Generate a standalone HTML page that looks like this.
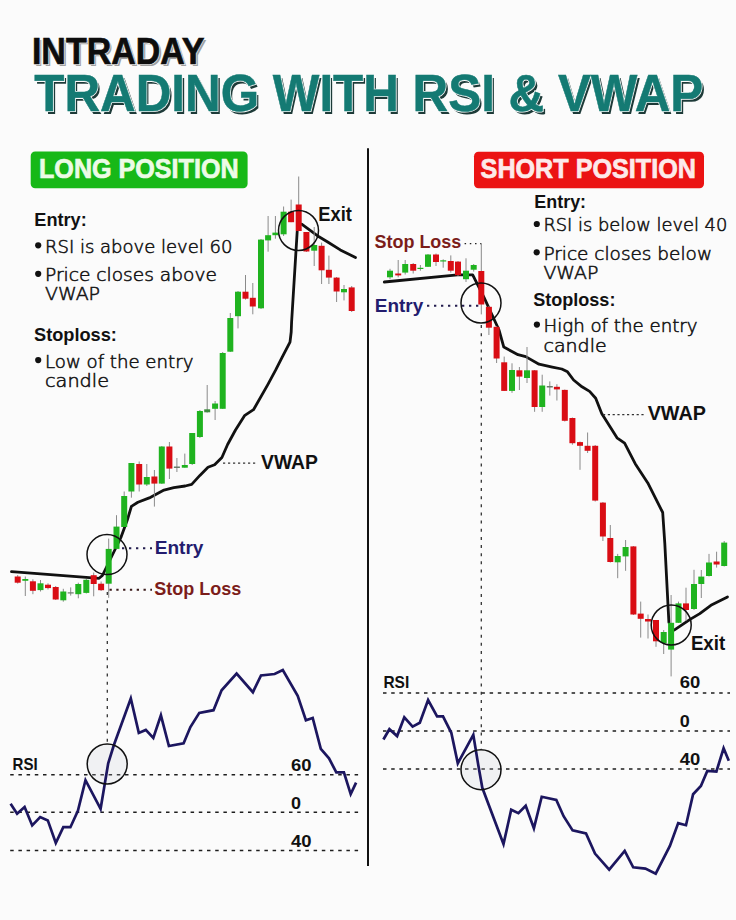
<!DOCTYPE html>
<html><head><meta charset="utf-8"><title>Intraday Trading with RSI &amp; VWAP</title>
<style>
html,body{margin:0;padding:0;background:#fbfbfb;}
body{width:736px;height:920px;overflow:hidden;}
svg{display:block;}
</style></head>
<body>
<svg width="736" height="920" viewBox="0 0 736 920">
<rect width="736" height="920" fill="#fbfbfb"/>
<g font-family="'Liberation Sans', Arial, sans-serif" font-weight="bold">
<text x="34.1" y="66.0" font-size="37.3" font-weight="bold" fill="#a0a0a0" textLength="172.5" lengthAdjust="spacingAndGlyphs">INTRADAY</text>
<text x="31.9" y="63.8" font-size="37.3" font-weight="bold" fill="#fbfbfb" textLength="172.5" lengthAdjust="spacingAndGlyphs" stroke="#fbfbfb" stroke-width="2.0">INTRADAY</text>
<text x="31.9" y="63.8" font-size="37.3" font-weight="bold" fill="#0d0d0d" textLength="172.5" lengthAdjust="spacingAndGlyphs" stroke="#0d0d0d" stroke-width="0.7">INTRADAY</text>
<text x="36.6" y="113.6" font-size="52.5" font-weight="bold" fill="#1d3a38" textLength="669" lengthAdjust="spacingAndGlyphs">TRADING WITH RSI &amp; VWAP</text>
<text x="34.3" y="111.3" font-size="52.5" font-weight="bold" fill="#fbfbfb" textLength="669" lengthAdjust="spacingAndGlyphs" stroke="#fbfbfb" stroke-width="2.2">TRADING WITH RSI &amp; VWAP</text>
<text x="34.3" y="111.3" font-size="52.5" font-weight="bold" fill="#147a73" textLength="669" lengthAdjust="spacingAndGlyphs" stroke="#147a73" stroke-width="0.5">TRADING WITH RSI &amp; VWAP</text>
</g>
<rect x="30.7" y="151.5" width="216.9" height="36.7" rx="4.5" fill="#17b817"/>
<text x="39.0" y="177.6" font-size="27" font-weight="bold" fill="#ecfbe6" textLength="199.6" lengthAdjust="spacingAndGlyphs" font-family="'Liberation Sans', Arial, sans-serif" stroke="#ecfbe6" stroke-width="0.7">LONG POSITION</text>
<rect x="474" y="151.8" width="230" height="36.4" rx="4.5" fill="#eb1313"/>
<text x="480.6" y="177.6" font-size="27" font-weight="bold" fill="#fdeaea" textLength="215.3" lengthAdjust="spacingAndGlyphs" font-family="'Liberation Sans', Arial, sans-serif" stroke="#fdeaea" stroke-width="0.7">SHORT POSITION</text>
<line x1="368" y1="148.3" x2="368" y2="866" stroke="#111" stroke-width="2"/>
<g font-family="'Liberation Sans', Arial, sans-serif"><text x="34.3" y="226.3" font-size="18.5" font-weight="bold" fill="#111" textLength="52.4" lengthAdjust="spacingAndGlyphs">Entry:</text>
<circle cx="38.2" cy="245.3" r="3.1" fill="#111"/>
<circle cx="38.2" cy="273.8" r="3.1" fill="#111"/>
<text x="34.0" y="340.8" font-size="18.5" font-weight="bold" fill="#111" textLength="82.9" lengthAdjust="spacingAndGlyphs">Stoploss:</text>
<circle cx="38.2" cy="360.1" r="3.1" fill="#111"/>
<text x="534.3" y="208.4" font-size="18.5" font-weight="bold" fill="#111" textLength="51.8" lengthAdjust="spacingAndGlyphs">Entry:</text>
<circle cx="536.8" cy="224.0" r="3.1" fill="#111"/>
<circle cx="536.7" cy="252.3" r="3.1" fill="#111"/>
<text x="533.2" y="305.6" font-size="18.5" font-weight="bold" fill="#111" textLength="82.2" lengthAdjust="spacingAndGlyphs">Stoploss:</text>
<circle cx="536.9" cy="324.6" r="3.1" fill="#111"/></g>
<g font-family="'DejaVu Sans', 'Liberation Sans', sans-serif" font-weight="200" stroke="#161616" stroke-width="0.55"><text x="45" y="252.8" font-size="17.2" font-weight="200" fill="#161616" textLength="187.5" lengthAdjust="spacingAndGlyphs">RSI is above level 60</text>
<text x="45" y="281.3" font-size="17.2" font-weight="200" fill="#161616" textLength="171.9" lengthAdjust="spacingAndGlyphs">Price closes above</text>
<text x="45" y="300.1" font-size="17.2" font-weight="200" fill="#161616" textLength="55" lengthAdjust="spacingAndGlyphs">VWAP</text>
<text x="45" y="367.8" font-size="17.2" font-weight="200" fill="#161616" textLength="148.4" lengthAdjust="spacingAndGlyphs">Low of the entry</text>
<text x="45" y="386.9" font-size="17.2" font-weight="200" fill="#161616" textLength="64" lengthAdjust="spacingAndGlyphs">candle</text>
<text x="543.4" y="231.2" font-size="17.2" font-weight="200" fill="#161616" textLength="183.9" lengthAdjust="spacingAndGlyphs">RSI is below level 40</text>
<text x="543.4" y="259.5" font-size="17.2" font-weight="200" fill="#161616" textLength="168.6" lengthAdjust="spacingAndGlyphs">Price closes below</text>
<text x="543.4" y="279.4" font-size="17.2" font-weight="200" fill="#161616" textLength="54.9" lengthAdjust="spacingAndGlyphs">VWAP</text>
<text x="543.5" y="332.3" font-size="17.2" font-weight="200" fill="#161616" textLength="154.1" lengthAdjust="spacingAndGlyphs">High of the entry</text>
<text x="543.5" y="352" font-size="17.2" font-weight="200" fill="#161616" textLength="63.1" lengthAdjust="spacingAndGlyphs">candle</text></g>
<line x1="10.2" y1="774.7" x2="358.9" y2="774.7" stroke="#1e1e1e" stroke-width="1.5" stroke-dasharray="3.5 4.7"/>
<line x1="10.2" y1="812.2" x2="358.9" y2="812.2" stroke="#1e1e1e" stroke-width="1.5" stroke-dasharray="3.5 4.7"/>
<line x1="10.2" y1="850.4" x2="358.9" y2="850.4" stroke="#1e1e1e" stroke-width="1.5" stroke-dasharray="3.5 4.7"/>
<line x1="383" y1="693" x2="730" y2="693" stroke="#1e1e1e" stroke-width="1.5" stroke-dasharray="3.5 4.7"/>
<line x1="383" y1="731" x2="730" y2="731" stroke="#1e1e1e" stroke-width="1.5" stroke-dasharray="3.5 4.7"/>
<line x1="383" y1="769" x2="730" y2="769" stroke="#1e1e1e" stroke-width="1.5" stroke-dasharray="3.5 4.7"/>
<line x1="107.3" y1="592" x2="107.3" y2="743.5" stroke="#333" stroke-width="1.3" stroke-dasharray="3 5.15"/>
<line x1="481.3" y1="325" x2="481.3" y2="749" stroke="#333" stroke-width="1.3" stroke-dasharray="3 5.15"/>
<circle cx="107.2" cy="764" r="20" fill="#c9cbd8" fill-opacity="0.2"/>
<circle cx="481" cy="769.7" r="20" fill="#c9cbd8" fill-opacity="0.2"/>
<polyline points="11.5,571.6 99.1,578.3 102.4,575.5 120.9,537.5 127.3,520.0 131.4,506.4 137.9,502.3 149.3,497.9 164.0,490.1 173.8,487.7 185.2,486.0 191.7,484.4 199.9,475.4 208.0,467.3 214.6,464.8 221.9,457.5 227.6,444.5 235.5,430.0 244.5,415.7 253.5,409.7 267.8,384.6 275.6,370.2 282.2,357.1 290.0,342.1 291.2,332.0 291.6,322.0 297.2,231.5" fill="none" stroke="#111" stroke-width="2.8" stroke-linejoin="round" stroke-linecap="round"/>
<polyline points="301.7,224.2 319.0,236.8 327.3,241.7 340.3,249.9 355.5,257.5" fill="none" stroke="#111" stroke-width="2.8" stroke-linejoin="round" stroke-linecap="round"/>
<polyline points="384.3,282.0 457.5,274.8 472.7,274.8 484.0,297.3 499.0,330.0 503.8,347.1 518.0,354.7 525.7,356.6 539.0,364.2 552.3,367.1 561.8,369.0 567.5,371.8 573.6,380.0 582.0,386.8 589.6,391.4 595.7,398.3 601.7,413.5 617.0,437.8 624.6,443.2 635.2,463.7 647.8,482.9 662.7,512.5 664.8,543.3 668.9,622.4" fill="none" stroke="#111" stroke-width="2.8" stroke-linejoin="round" stroke-linecap="round"/>
<polyline points="674.5,629.9 690.5,619.1 699.8,613.6 710.9,605.3 727.5,597.0" fill="none" stroke="#111" stroke-width="2.8" stroke-linejoin="round" stroke-linecap="round"/>
<line x1="17.7" y1="575.1" x2="17.7" y2="583.6" stroke="#8a8a8a" stroke-width="1"/>
<rect x="14.7" y="576.5" width="6.0" height="6.2" fill="#d90d14"/>
<line x1="25.3" y1="576.5" x2="25.3" y2="596.0" stroke="#8a8a8a" stroke-width="1"/>
<rect x="22.3" y="579.0" width="6.0" height="1.8" fill="#1fb31f"/>
<line x1="32.9" y1="579.3" x2="32.9" y2="594.2" stroke="#8a8a8a" stroke-width="1"/>
<rect x="29.9" y="581.3" width="6.0" height="9.5" fill="#d90d14"/>
<line x1="40.5" y1="580.0" x2="40.5" y2="591.5" stroke="#8a8a8a" stroke-width="1"/>
<rect x="37.5" y="583.3" width="6.0" height="6.8" fill="#1fb31f"/>
<line x1="48.0" y1="583.3" x2="48.0" y2="589.5" stroke="#8a8a8a" stroke-width="1"/>
<rect x="45.0" y="584.7" width="6.0" height="3.4" fill="#d90d14"/>
<line x1="55.7" y1="586.0" x2="55.7" y2="600.0" stroke="#8a8a8a" stroke-width="1"/>
<rect x="52.7" y="587.0" width="6.0" height="12.5" fill="#d90d14"/>
<line x1="63.3" y1="588.8" x2="63.3" y2="601.7" stroke="#8a8a8a" stroke-width="1"/>
<rect x="60.3" y="591.5" width="6.0" height="8.8" fill="#1fb31f"/>
<line x1="70.7" y1="587.4" x2="70.7" y2="595.6" stroke="#8a8a8a" stroke-width="1"/>
<rect x="67.7" y="592.3" width="6.0" height="1.2" fill="#6a7a6a"/>
<line x1="78.3" y1="582.7" x2="78.3" y2="598.3" stroke="#8a8a8a" stroke-width="1"/>
<rect x="75.3" y="584.0" width="6.0" height="10.2" fill="#1fb31f"/>
<line x1="86.3" y1="579.0" x2="86.3" y2="593.5" stroke="#8a8a8a" stroke-width="1"/>
<rect x="83.3" y="579.8" width="6.0" height="13.1" fill="#1fb31f"/>
<line x1="93.7" y1="572.5" x2="93.7" y2="596.3" stroke="#8a8a8a" stroke-width="1"/>
<rect x="90.7" y="575.2" width="6.0" height="8.8" fill="#d90d14"/>
<line x1="101.1" y1="581.5" x2="101.1" y2="591.0" stroke="#8a8a8a" stroke-width="1"/>
<rect x="98.1" y="583.7" width="6.0" height="6.5" fill="#d90d14"/>
<line x1="108.7" y1="538.6" x2="108.7" y2="597.8" stroke="#8a8a8a" stroke-width="1"/>
<rect x="105.7" y="548.9" width="6.0" height="34.8" fill="#1fb31f"/>
<line x1="116.5" y1="515.2" x2="116.5" y2="549.0" stroke="#8a8a8a" stroke-width="1"/>
<rect x="113.5" y="526.6" width="6.0" height="22.3" fill="#1fb31f"/>
<line x1="124.2" y1="491.5" x2="124.2" y2="527.0" stroke="#8a8a8a" stroke-width="1"/>
<rect x="121.2" y="496.0" width="6.0" height="31.0" fill="#1fb31f"/>
<line x1="131.4" y1="463.0" x2="131.4" y2="497.7" stroke="#8a8a8a" stroke-width="1"/>
<rect x="128.4" y="463.0" width="6.0" height="28.5" fill="#1fb31f"/>
<line x1="139.2" y1="461.5" x2="139.2" y2="491.5" stroke="#8a8a8a" stroke-width="1"/>
<rect x="136.2" y="464.0" width="6.0" height="20.5" fill="#d90d14"/>
<line x1="146.8" y1="464.0" x2="146.8" y2="486.0" stroke="#8a8a8a" stroke-width="1"/>
<rect x="143.8" y="477.0" width="6.0" height="7.5" fill="#1fb31f"/>
<line x1="154.4" y1="470.0" x2="154.4" y2="506.6" stroke="#8a8a8a" stroke-width="1"/>
<rect x="151.4" y="476.5" width="6.0" height="7.1" fill="#d90d14"/>
<line x1="161.8" y1="446.0" x2="161.8" y2="484.0" stroke="#8a8a8a" stroke-width="1"/>
<rect x="158.8" y="446.5" width="6.0" height="37.1" fill="#1fb31f"/>
<line x1="169.4" y1="442.0" x2="169.4" y2="479.0" stroke="#8a8a8a" stroke-width="1"/>
<rect x="166.4" y="446.5" width="6.0" height="22.1" fill="#d90d14"/>
<line x1="176.9" y1="458.0" x2="176.9" y2="472.0" stroke="#8a8a8a" stroke-width="1"/>
<rect x="173.9" y="466.5" width="6.0" height="1.5" fill="#6a7a6a"/>
<line x1="184.8" y1="453.6" x2="184.8" y2="467.7" stroke="#8a8a8a" stroke-width="1"/>
<rect x="181.8" y="465.0" width="6.0" height="2.7" fill="#1fb31f"/>
<line x1="192.2" y1="433.0" x2="192.2" y2="465.0" stroke="#8a8a8a" stroke-width="1"/>
<rect x="189.2" y="433.0" width="6.0" height="31.0" fill="#1fb31f"/>
<line x1="199.9" y1="410.0" x2="199.9" y2="438.0" stroke="#8a8a8a" stroke-width="1"/>
<rect x="196.9" y="411.0" width="6.0" height="26.0" fill="#1fb31f"/>
<line x1="207.2" y1="385.0" x2="207.2" y2="412.6" stroke="#8a8a8a" stroke-width="1"/>
<rect x="204.2" y="409.3" width="6.0" height="3.0" fill="#3f8c3f"/>
<line x1="215.1" y1="401.0" x2="215.1" y2="420.0" stroke="#8a8a8a" stroke-width="1"/>
<rect x="212.1" y="403.5" width="6.0" height="5.3" fill="#1fb31f"/>
<line x1="222.7" y1="352.0" x2="222.7" y2="409.0" stroke="#8a8a8a" stroke-width="1"/>
<rect x="219.7" y="353.0" width="6.0" height="55.8" fill="#1fb31f"/>
<line x1="230.3" y1="313.0" x2="230.3" y2="352.0" stroke="#8a8a8a" stroke-width="1"/>
<rect x="227.3" y="318.0" width="6.0" height="33.7" fill="#1fb31f"/>
<line x1="238.0" y1="291.0" x2="238.0" y2="328.4" stroke="#8a8a8a" stroke-width="1"/>
<rect x="235.0" y="291.7" width="6.0" height="24.5" fill="#1fb31f"/>
<line x1="245.5" y1="275.0" x2="245.5" y2="299.6" stroke="#8a8a8a" stroke-width="1"/>
<rect x="242.5" y="291.7" width="6.0" height="7.0" fill="#d90d14"/>
<line x1="252.8" y1="283.0" x2="252.8" y2="314.3" stroke="#8a8a8a" stroke-width="1"/>
<rect x="249.8" y="297.8" width="6.0" height="8.7" fill="#d90d14"/>
<line x1="261.0" y1="239.0" x2="261.0" y2="309.0" stroke="#8a8a8a" stroke-width="1"/>
<rect x="258.0" y="239.6" width="6.0" height="68.7" fill="#1fb31f"/>
<line x1="268.1" y1="216.0" x2="268.1" y2="251.7" stroke="#8a8a8a" stroke-width="1"/>
<rect x="265.1" y="235.2" width="6.0" height="5.2" fill="#1fb31f"/>
<line x1="275.4" y1="216.0" x2="275.4" y2="238.7" stroke="#8a8a8a" stroke-width="1"/>
<rect x="272.4" y="232.6" width="6.0" height="2.6" fill="#1fb31f"/>
<line x1="283.6" y1="206.5" x2="283.6" y2="236.0" stroke="#8a8a8a" stroke-width="1"/>
<rect x="280.6" y="211.7" width="6.0" height="22.6" fill="#1fb31f"/>
<line x1="291.1" y1="199.6" x2="291.1" y2="222.2" stroke="#8a8a8a" stroke-width="1"/>
<rect x="288.1" y="211.7" width="6.0" height="10.5" fill="#d90d14"/>
<line x1="298.7" y1="176.5" x2="298.7" y2="231.0" stroke="#8a8a8a" stroke-width="1"/>
<rect x="295.7" y="204.5" width="6.0" height="26.5" fill="#d90d14"/>
<line x1="306.4" y1="232.0" x2="306.4" y2="252.0" stroke="#8a8a8a" stroke-width="1"/>
<rect x="303.4" y="232.0" width="6.0" height="19.5" fill="#d90d14"/>
<line x1="314.2" y1="227.0" x2="314.2" y2="266.0" stroke="#8a8a8a" stroke-width="1"/>
<rect x="311.2" y="245.0" width="6.0" height="5.7" fill="#1fb31f"/>
<line x1="321.6" y1="242.6" x2="321.6" y2="284.0" stroke="#8a8a8a" stroke-width="1"/>
<rect x="318.6" y="245.8" width="6.0" height="24.5" fill="#d90d14"/>
<line x1="328.9" y1="255.6" x2="328.9" y2="284.0" stroke="#8a8a8a" stroke-width="1"/>
<rect x="325.9" y="269.8" width="6.0" height="7.8" fill="#d90d14"/>
<line x1="336.6" y1="277.0" x2="336.6" y2="302.0" stroke="#8a8a8a" stroke-width="1"/>
<rect x="333.6" y="277.6" width="6.0" height="13.9" fill="#d90d14"/>
<line x1="344.0" y1="285.0" x2="344.0" y2="300.4" stroke="#8a8a8a" stroke-width="1"/>
<rect x="341.0" y="289.0" width="6.0" height="3.3" fill="#1fb31f"/>
<line x1="351.7" y1="286.0" x2="351.7" y2="312.0" stroke="#8a8a8a" stroke-width="1"/>
<rect x="348.7" y="287.4" width="6.0" height="23.6" fill="#d90d14"/>
<line x1="390.0" y1="268.8" x2="390.0" y2="279.2" stroke="#8a8a8a" stroke-width="1"/>
<rect x="387.0" y="270.7" width="6.0" height="6.6" fill="#1fb31f"/>
<line x1="398.2" y1="260.0" x2="398.2" y2="277.3" stroke="#8a8a8a" stroke-width="1"/>
<rect x="395.2" y="273.5" width="6.0" height="1.9" fill="#d90d14"/>
<line x1="405.2" y1="260.0" x2="405.2" y2="274.5" stroke="#8a8a8a" stroke-width="1"/>
<rect x="402.2" y="264.0" width="6.0" height="8.6" fill="#1fb31f"/>
<line x1="413.2" y1="263.0" x2="413.2" y2="273.5" stroke="#8a8a8a" stroke-width="1"/>
<rect x="410.2" y="264.0" width="6.0" height="6.7" fill="#d90d14"/>
<line x1="420.4" y1="265.0" x2="420.4" y2="270.7" stroke="#8a8a8a" stroke-width="1"/>
<rect x="417.4" y="267.8" width="6.0" height="1.2" fill="#1fb31f"/>
<line x1="428.0" y1="254.0" x2="428.0" y2="267.0" stroke="#8a8a8a" stroke-width="1"/>
<rect x="425.0" y="254.5" width="6.0" height="12.3" fill="#1fb31f"/>
<line x1="436.0" y1="253.5" x2="436.0" y2="266.0" stroke="#8a8a8a" stroke-width="1"/>
<rect x="433.0" y="254.5" width="6.0" height="7.5" fill="#d90d14"/>
<line x1="443.2" y1="259.3" x2="443.2" y2="267.7" stroke="#8a8a8a" stroke-width="1"/>
<rect x="440.2" y="260.3" width="6.0" height="1.2" fill="#1fb31f"/>
<line x1="450.8" y1="255.4" x2="450.8" y2="272.6" stroke="#8a8a8a" stroke-width="1"/>
<rect x="447.8" y="261.0" width="6.0" height="9.7" fill="#d90d14"/>
<line x1="458.0" y1="261.0" x2="458.0" y2="276.0" stroke="#8a8a8a" stroke-width="1"/>
<rect x="455.0" y="261.6" width="6.0" height="13.6" fill="#d90d14"/>
<line x1="466.0" y1="258.3" x2="466.0" y2="282.0" stroke="#8a8a8a" stroke-width="1"/>
<rect x="463.0" y="270.7" width="6.0" height="8.5" fill="#1fb31f"/>
<line x1="473.7" y1="264.0" x2="473.7" y2="271.6" stroke="#8a8a8a" stroke-width="1"/>
<rect x="470.7" y="265.0" width="6.0" height="4.7" fill="#1fb31f"/>
<line x1="481.3" y1="243.6" x2="481.3" y2="314.4" stroke="#8a8a8a" stroke-width="1"/>
<rect x="478.3" y="271.0" width="6.0" height="33.5" fill="#d90d14"/>
<line x1="488.9" y1="306.0" x2="488.9" y2="335.0" stroke="#8a8a8a" stroke-width="1"/>
<rect x="485.9" y="306.8" width="6.0" height="20.9" fill="#d90d14"/>
<line x1="496.6" y1="326.0" x2="496.6" y2="363.0" stroke="#8a8a8a" stroke-width="1"/>
<rect x="493.6" y="326.8" width="6.0" height="31.7" fill="#d90d14"/>
<line x1="504.2" y1="356.6" x2="504.2" y2="391.0" stroke="#8a8a8a" stroke-width="1"/>
<rect x="501.2" y="362.3" width="6.0" height="28.6" fill="#d90d14"/>
<line x1="512.0" y1="363.3" x2="512.0" y2="392.8" stroke="#8a8a8a" stroke-width="1"/>
<rect x="509.0" y="370.0" width="6.0" height="20.9" fill="#1fb31f"/>
<line x1="519.4" y1="367.0" x2="519.4" y2="390.0" stroke="#8a8a8a" stroke-width="1"/>
<rect x="516.4" y="370.3" width="6.0" height="6.3" fill="#d90d14"/>
<line x1="527.0" y1="347.0" x2="527.0" y2="383.0" stroke="#8a8a8a" stroke-width="1"/>
<rect x="524.0" y="370.3" width="6.0" height="7.7" fill="#1fb31f"/>
<line x1="534.6" y1="370.0" x2="534.6" y2="411.8" stroke="#8a8a8a" stroke-width="1"/>
<rect x="531.6" y="370.3" width="6.0" height="36.7" fill="#d90d14"/>
<line x1="542.2" y1="374.7" x2="542.2" y2="411.8" stroke="#8a8a8a" stroke-width="1"/>
<rect x="539.2" y="385.5" width="6.0" height="21.5" fill="#1fb31f"/>
<line x1="549.8" y1="381.4" x2="549.8" y2="395.6" stroke="#8a8a8a" stroke-width="1"/>
<rect x="546.8" y="386.0" width="6.0" height="1.5" fill="#6a7a6a"/>
<line x1="556.9" y1="384.2" x2="556.9" y2="400.5" stroke="#8a8a8a" stroke-width="1"/>
<rect x="553.9" y="386.8" width="6.0" height="2.6" fill="#d90d14"/>
<line x1="564.8" y1="389.5" x2="564.8" y2="421.5" stroke="#8a8a8a" stroke-width="1"/>
<rect x="561.8" y="389.9" width="6.0" height="30.9" fill="#d90d14"/>
<line x1="572.4" y1="417.5" x2="572.4" y2="444.7" stroke="#8a8a8a" stroke-width="1"/>
<rect x="569.4" y="418.0" width="6.0" height="25.2" fill="#d90d14"/>
<line x1="580.0" y1="441.5" x2="580.0" y2="469.8" stroke="#8a8a8a" stroke-width="1"/>
<rect x="577.0" y="442.1" width="6.0" height="3.7" fill="#d90d14"/>
<line x1="587.6" y1="432.5" x2="587.6" y2="453.0" stroke="#8a8a8a" stroke-width="1"/>
<rect x="584.6" y="445.8" width="6.0" height="5.0" fill="#d90d14"/>
<line x1="595.2" y1="445.0" x2="595.2" y2="501.5" stroke="#8a8a8a" stroke-width="1"/>
<rect x="592.2" y="445.8" width="6.0" height="54.8" fill="#d90d14"/>
<line x1="602.9" y1="502.0" x2="602.9" y2="541.0" stroke="#8a8a8a" stroke-width="1"/>
<rect x="599.9" y="502.6" width="6.0" height="33.9" fill="#d90d14"/>
<line x1="610.3" y1="525.0" x2="610.3" y2="562.5" stroke="#8a8a8a" stroke-width="1"/>
<rect x="607.3" y="538.0" width="6.0" height="24.0" fill="#d90d14"/>
<line x1="617.7" y1="553.9" x2="617.7" y2="578.2" stroke="#8a8a8a" stroke-width="1"/>
<rect x="614.7" y="556.0" width="6.0" height="6.3" fill="#1fb31f"/>
<line x1="625.6" y1="540.0" x2="625.6" y2="570.8" stroke="#8a8a8a" stroke-width="1"/>
<rect x="622.6" y="547.0" width="6.0" height="9.4" fill="#1fb31f"/>
<line x1="633.4" y1="546.0" x2="633.4" y2="615.0" stroke="#8a8a8a" stroke-width="1"/>
<rect x="630.4" y="546.4" width="6.0" height="68.1" fill="#d90d14"/>
<line x1="640.7" y1="601.6" x2="640.7" y2="637.6" stroke="#8a8a8a" stroke-width="1"/>
<rect x="637.7" y="613.6" width="6.0" height="5.2" fill="#d90d14"/>
<line x1="648.0" y1="614.5" x2="648.0" y2="638.5" stroke="#8a8a8a" stroke-width="1"/>
<rect x="645.0" y="619.0" width="6.0" height="2.5" fill="#d90d14"/>
<line x1="656.0" y1="620.0" x2="656.0" y2="646.8" stroke="#8a8a8a" stroke-width="1"/>
<rect x="653.0" y="620.0" width="6.0" height="21.3" fill="#d90d14"/>
<line x1="663.7" y1="630.0" x2="663.7" y2="654.0" stroke="#8a8a8a" stroke-width="1"/>
<rect x="660.7" y="632.0" width="6.0" height="11.0" fill="#1fb31f"/>
<line x1="671.1" y1="595.0" x2="671.1" y2="676.4" stroke="#8a8a8a" stroke-width="1"/>
<rect x="668.1" y="622.8" width="6.0" height="26.8" fill="#1fb31f"/>
<line x1="678.5" y1="601.6" x2="678.5" y2="623.0" stroke="#8a8a8a" stroke-width="1"/>
<rect x="675.5" y="603.4" width="6.0" height="19.4" fill="#1fb31f"/>
<line x1="686.0" y1="587.7" x2="686.0" y2="621.0" stroke="#8a8a8a" stroke-width="1"/>
<rect x="683.0" y="603.4" width="6.0" height="6.6" fill="#d90d14"/>
<line x1="694.0" y1="569.8" x2="694.0" y2="610.0" stroke="#8a8a8a" stroke-width="1"/>
<rect x="691.0" y="584.0" width="6.0" height="25.0" fill="#1fb31f"/>
<line x1="701.3" y1="570.0" x2="701.3" y2="598.0" stroke="#8a8a8a" stroke-width="1"/>
<rect x="698.3" y="576.6" width="6.0" height="7.4" fill="#1fb31f"/>
<line x1="709.0" y1="553.9" x2="709.0" y2="576.5" stroke="#8a8a8a" stroke-width="1"/>
<rect x="706.0" y="562.5" width="6.0" height="13.5" fill="#1fb31f"/>
<line x1="716.6" y1="551.7" x2="716.6" y2="567.6" stroke="#8a8a8a" stroke-width="1"/>
<rect x="713.6" y="561.5" width="6.0" height="3.0" fill="#d90d14"/>
<line x1="724.2" y1="541.0" x2="724.2" y2="566.5" stroke="#8a8a8a" stroke-width="1"/>
<rect x="721.2" y="542.6" width="6.0" height="23.4" fill="#1fb31f"/>
<polyline points="10.6,803.8 17.1,813.8 24.6,807.0 32.2,825.4 40.2,817.1 47.8,820.4 55.8,843.0 63.3,827.2 70.4,827.2 77.9,810.8 85.5,780.2 100.6,808.8 108.2,763.4 113.9,745.0 130.8,698.5 138.8,732.9 145.8,729.9 153.3,737.9 160.9,715.3 168.9,746.0 183.6,743.3 190.4,727.0 199.3,712.9 213.5,710.2 221.6,690.3 236.6,673.5 252.9,692.2 261.0,675.4 274.6,674.0 282.8,670.0 297.7,695.8 305.9,720.2 312.7,718.0 320.8,748.8 329.0,758.3 336.3,772.4 343.9,772.4 350.7,794.1 356.1,782.7" fill="none" stroke="#1c165f" stroke-width="2.7" stroke-linejoin="miter" stroke-linecap="butt"/>
<polyline points="383.4,739.5 389.4,729.2 397.1,736.1 404.3,717.3 412.6,726.6 419.8,722.7 428.1,700.0 437.1,716.3 443.0,716.3 451.3,732.8 457.8,763.3 473.3,734.9 478.4,765.8 482.3,787.8 503.5,844.0 511.2,809.7 518.4,813.1 525.7,805.8 533.9,828.3 541.7,796.8 556.3,799.9 563.6,816.2 572.6,830.4 586.0,833.5 595.0,853.6 609.2,869.6 624.7,851.0 633.2,867.3 645.4,868.6 655.7,873.7 669.9,845.9 678.2,823.1 686.0,825.2 693.1,794.2 700.9,786.0 707.3,771.0 716.4,771.5 723.6,748.3 728.8,760.7" fill="none" stroke="#1c165f" stroke-width="2.7" stroke-linejoin="miter" stroke-linecap="butt"/>
<circle cx="298.5" cy="230.5" r="20" fill="none" stroke="#111" stroke-width="1.5"/>
<circle cx="107" cy="554.6" r="20" fill="none" stroke="#111" stroke-width="1.5"/>
<circle cx="481" cy="303" r="20" fill="none" stroke="#111" stroke-width="1.5"/>
<circle cx="671.2" cy="625" r="20" fill="none" stroke="#111" stroke-width="1.5"/>
<circle cx="107.2" cy="764" r="20" fill="none" stroke="#111" stroke-width="1.5"/>
<circle cx="481" cy="769.7" r="20" fill="none" stroke="#111" stroke-width="1.5"/>
<line x1="122" y1="548.2" x2="152" y2="548.2" stroke="#231c4e" stroke-width="1.9" stroke-dasharray="2.3 4.7"/>
<line x1="109.5" y1="589.7" x2="152" y2="589.7" stroke="#3a1a1a" stroke-width="1.9" stroke-dasharray="2.3 4.5"/>
<line x1="223" y1="463.2" x2="257.8" y2="463.2" stroke="#333" stroke-width="1.3" stroke-dasharray="2.2 2.8"/>
<line x1="427" y1="305.8" x2="478.4" y2="305.8" stroke="#231c4e" stroke-width="1.9" stroke-dasharray="2.3 4.7"/>
<line x1="464.6" y1="243.6" x2="481.3" y2="243.6" stroke="#222" stroke-width="1.4" stroke-dasharray="1.5 3.7"/>
<line x1="603" y1="414.6" x2="646" y2="414.6" stroke="#333" stroke-width="1.3" stroke-dasharray="2.2 2.6"/>
<g font-family="'Liberation Sans', Arial, sans-serif"><text x="318.3" y="220.6" font-size="20" font-weight="bold" fill="#111" textLength="33.5" lengthAdjust="spacingAndGlyphs">Exit</text>
<text x="690.9" y="649.6" font-size="20" font-weight="bold" fill="#111" textLength="34.3" lengthAdjust="spacingAndGlyphs">Exit</text>
<text x="261" y="469.3" font-size="20" font-weight="bold" fill="#111" textLength="57" lengthAdjust="spacingAndGlyphs">VWAP</text>
<text x="647.7" y="420.0" font-size="20" font-weight="bold" fill="#111" textLength="58.2" lengthAdjust="spacingAndGlyphs">VWAP</text>
<text x="154.7" y="553.5" font-size="18.6" font-weight="bold" fill="#231c6e" textLength="48.8" lengthAdjust="spacingAndGlyphs">Entry</text>
<text x="154.3" y="594.9" font-size="18.6" font-weight="bold" fill="#7b1d1a" textLength="87" lengthAdjust="spacingAndGlyphs">Stop Loss</text>
<text x="374.5" y="248.4" font-size="18.6" font-weight="bold" fill="#7b1d1a" textLength="86.8" lengthAdjust="spacingAndGlyphs">Stop Loss</text>
<text x="374.8" y="311.6" font-size="18.6" font-weight="bold" fill="#231c6e" textLength="48.5" lengthAdjust="spacingAndGlyphs">Entry</text>
<text x="12.6" y="770" font-size="17" font-weight="bold" fill="#111" textLength="25.1" lengthAdjust="spacingAndGlyphs">RSI</text>
<text x="383.4" y="688.4" font-size="17" font-weight="bold" fill="#111" textLength="25.8" lengthAdjust="spacingAndGlyphs">RSI</text>
<text x="291" y="770.5" font-size="16" font-weight="bold" fill="#111" textLength="20.5" lengthAdjust="spacingAndGlyphs">60</text>
<text x="291" y="808.5" font-size="16" font-weight="bold" fill="#111" textLength="10" lengthAdjust="spacingAndGlyphs">0</text>
<text x="291" y="846.6" font-size="16" font-weight="bold" fill="#111" textLength="20.5" lengthAdjust="spacingAndGlyphs">40</text>
<text x="679.7" y="688.4" font-size="16" font-weight="bold" fill="#111" textLength="20.5" lengthAdjust="spacingAndGlyphs">60</text>
<text x="679.7" y="726.6" font-size="16" font-weight="bold" fill="#111" textLength="10" lengthAdjust="spacingAndGlyphs">0</text>
<text x="679.7" y="764.5" font-size="16" font-weight="bold" fill="#111" textLength="20.5" lengthAdjust="spacingAndGlyphs">40</text></g>
</svg>
</body></html>
